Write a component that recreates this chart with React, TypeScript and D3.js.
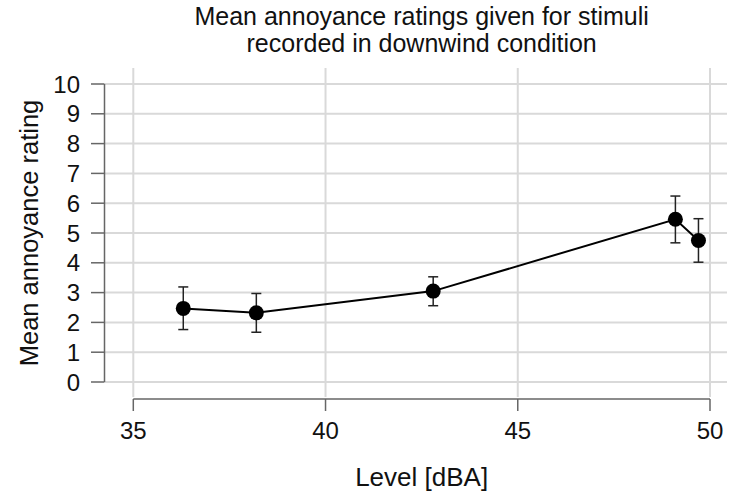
import React from "react";
import * as d3 from "d3";

const levels = [36.3, 38.2, 42.8, 49.1, 49.7];
const means = [2.47, 2.32, 3.05, 5.46, 4.75];
const errLow = [1.76, 1.67, 2.56, 4.67, 4.02];
const errHigh = [3.19, 2.97, 3.53, 6.24, 5.48];
const xTicks = [35, 40, 45, 50];
const yTicks = [0, 1, 2, 3, 4, 5, 6, 7, 8, 9, 10];
const titleLines = ["Mean annoyance ratings given for stimuli", "recorded in downwind condition"];

export default function App() {
  const W = 729, H = 492;
  const x = d3.scaleLinear().domain([35, 50]).range([133.3, 710]);
  const y = d3.scaleLinear().domain([0, 10]).range([382, 84]);
  const font = "'Liberation Sans', Arial, sans-serif";
  const line = d3.line<number>().x((_, i) => x(levels[i])).y((d) => y(d));
  const grid = "#d9d9d9";
  const axis = "#666";
  const cx = (x(35) + x(50)) / 2;
  return (
    <svg width={W} height={H} style={{ position: "absolute", left: 0, top: 0 }} fontFamily={font}>
      <rect width={W} height={H} fill="#fff" />
      {titleLines.map((t, i) => (
        <text key={i} x={cx} y={25 + i * 27} textAnchor="middle" fontSize={25} fill="#111">{t}</text>
      ))}
      {yTicks.map((t) => (
        <line key={"gy" + t} x1={105} x2={727} y1={y(t)} y2={y(t)} stroke={grid} strokeWidth={2} />
      ))}
      {xTicks.map((t) => (
        <line key={"gx" + t} x1={x(t)} x2={x(t)} y1={68} y2={397} stroke={grid} strokeWidth={2} />
      ))}
      <line x1={104.5} x2={104.5} y1={y(10)} y2={y(0)} stroke={axis} strokeWidth={1.5} />
      {yTicks.map((t) => (
        <g key={"ty" + t}>
          <line x1={91} x2={104.5} y1={y(t)} y2={y(t)} stroke={axis} strokeWidth={1.5} />
          <text x={80} y={y(t) + 8.5} textAnchor="end" fontSize={24} fill="#111">{t}</text>
        </g>
      ))}
      <line x1={x(35)} x2={x(50)} y1={399} y2={399} stroke={axis} strokeWidth={1.5} />
      {xTicks.map((t) => (
        <g key={"tx" + t}>
          <line x1={x(t)} x2={x(t)} y1={399} y2={411} stroke={axis} strokeWidth={1.5} />
          <text x={x(t)} y={438.5} textAnchor="middle" fontSize={24} fill="#111">{t}</text>
        </g>
      ))}
      <text x={cx} y={486} textAnchor="middle" fontSize={26} fill="#111">Level [dBA]</text>
      <text transform={`translate(38,${(y(0) + y(10)) / 2}) rotate(-90)`} textAnchor="middle" fontSize={25.5} fill="#111">Mean annoyance rating</text>
      <path d={line(means) || ""} fill="none" stroke="#000" strokeWidth={2} />
      {levels.map((l, i) => (
        <g key={"e" + i} stroke="#222" strokeWidth={1.5}>
          <line x1={x(l)} x2={x(l)} y1={y(errLow[i])} y2={y(errHigh[i])} />
          <line x1={x(l) - 5} x2={x(l) + 5} y1={y(errLow[i])} y2={y(errLow[i])} />
          <line x1={x(l) - 5} x2={x(l) + 5} y1={y(errHigh[i])} y2={y(errHigh[i])} />
        </g>
      ))}
      {levels.map((l, i) => (
        <circle key={"c" + i} cx={x(l)} cy={y(means[i])} r={7.5} fill="#000" />
      ))}
    </svg>
  );
}
